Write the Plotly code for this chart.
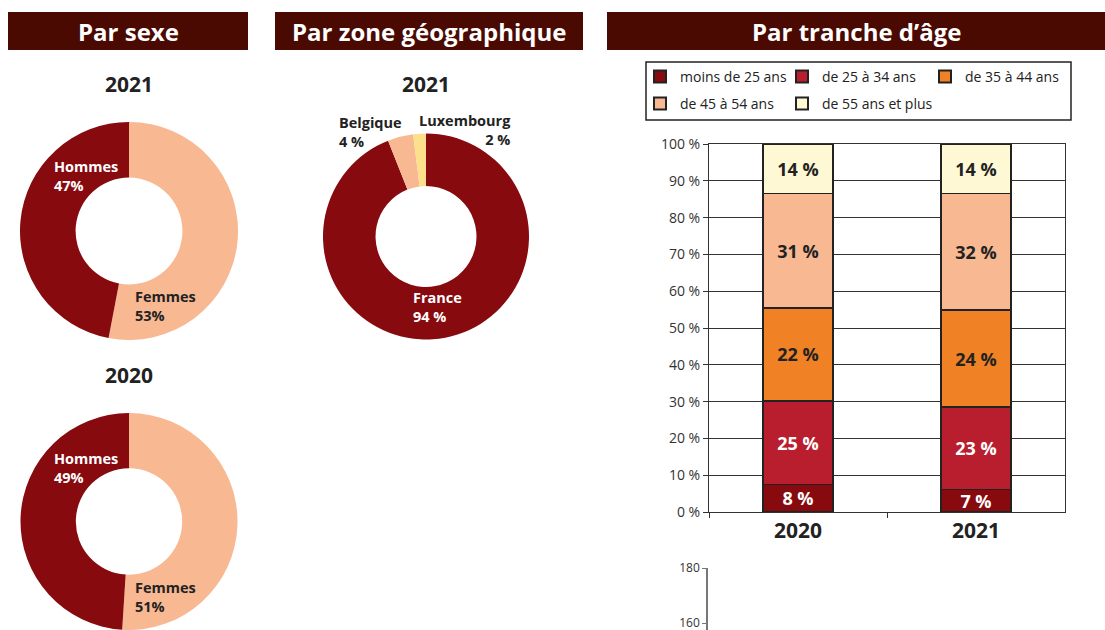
import plotly.graph_objects as go

W, H = 1105, 630


def fx(x):
    return x / W


def fy(y):
    return 1 - y / H


# ---------------- data ----------------
sexe_labels = ["Femmes", "Hommes"]
sexe_2021 = [53, 47]
sexe_2020 = [51, 49]

zone_labels = ["France", "Belgique", "Luxembourg"]
zone_2021 = [94, 4, 2]

years = ["2020", "2021"]
age_groups = ["moins de 25 ans", "de 25 à 34 ans", "de 35 à 44 ans",
              "de 45 à 54 ans", "de 55 ans et plus"]
# bar heights as drawn (%)
age_2020 = [7.5, 22.7, 25.3, 31.0, 13.5]
age_2021 = [6.1, 22.4, 26.4, 31.6, 13.5]
# values printed on the bars (%)
age_2020_labels = [8, 25, 22, 31, 14]
age_2021_labels = [7, 23, 24, 32, 14]
age_ticks = list(range(0, 101, 10))
age_tick_text = [f"{v} %" for v in age_ticks]

second_ticks = [160, 180]

headers = ["Par sexe", "Par zone géographique", "Par tranche d’âge"]

# ---------------- styles ----------------
DARK = "#870A0F"
RED = "#B81E2D"
ORANGE = "#F08125"
PEACH = "#F8B892"
CREAM = "#FFF8D4"
LUX = "#FDE08B"
HEAD = "#4A0A02"
TXT = "#222222"
FONT = "Open Sans"

age_colors = [DARK, RED, ORANGE, PEACH, CREAM]
age_text_colors = ["white", "white", TXT, TXT, TXT]
legend_ids = ["legend", "legend2", "legend3", "legend4", "legend5"]
# legend entry positions (px): (left, row centre)
legend_pos = [(640, 77), (782, 77), (925, 77), (640, 104), (782, 104)]

fig = go.Figure()

# ---------------- donuts ----------------
fig.add_trace(go.Pie(
    labels=sexe_labels, values=sexe_2021, sort=False, direction="clockwise",
    rotation=0, hole=0.49, textinfo="none", showlegend=False,
    marker=dict(colors=[PEACH, DARK], line=dict(width=0)),
    domain=dict(x=[fx(20), fx(238)], y=[fy(340), fy(122)]),
))
fig.add_trace(go.Pie(
    labels=sexe_labels, values=sexe_2020, sort=False, direction="clockwise",
    rotation=0, hole=0.49, textinfo="none", showlegend=False,
    marker=dict(colors=[PEACH, DARK], line=dict(width=0)),
    domain=dict(x=[fx(20), fx(238)], y=[0, fy(413)]),
))
fig.add_trace(go.Pie(
    labels=zone_labels, values=zone_2021, sort=False, direction="clockwise",
    rotation=0, hole=0.49, textinfo="none", showlegend=False,
    marker=dict(colors=[DARK, PEACH, LUX], line=dict(width=0)),
    domain=dict(x=[fx(323), fx(529)], y=[fy(340), fy(133)]),
))

# ---------------- stacked bars ----------------
for i, g in enumerate(age_groups):
    fig.add_trace(go.Bar(
        x=years, y=[age_2020[i], age_2021[i]], name=g,
        text=[f"{age_2020_labels[i]} %", f"{age_2021_labels[i]} %"],
        textposition="inside", insidetextanchor="middle", textangle=0,
        constraintext="none",
        textfont=dict(family=FONT, size=18, color=age_text_colors[i], weight="bold"),
        marker=dict(color=age_colors[i], line=dict(color="#222222", width=1.5)),
        legend=legend_ids[i],
        xaxis="x", yaxis="y",
    ))

# second (partially visible) chart axis
fig.add_trace(go.Scatter(x=[], y=[], xaxis="x2", yaxis="y2", showlegend=False))

# ---------------- annotations ----------------
ann = []
header_boxes = [(8, 248), (275, 583), (607, 1105)]
shapes = []
for (x0, x1), t in zip(header_boxes, headers):
    shapes.append(dict(type="rect", xref="paper", yref="paper",
                       x0=fx(x0), x1=fx(x1), y0=fy(50), y1=fy(12),
                       fillcolor=HEAD, line=dict(width=0), layer="below"))
    ann.append(dict(text=t, x=fx((x0 + x1) / 2), y=fy(31), xref="paper", yref="paper",
                    showarrow=False, xanchor="center", yanchor="middle",
                    font=dict(family=FONT, size=24, color="white", weight="bold")))

for t, x, y in [("2021", 129, 84), ("2021", 426, 84), ("2020", 129, 375)]:
    ann.append(dict(text=t, x=fx(x), y=fy(y), xref="paper", yref="paper",
                    showarrow=False, xanchor="center", yanchor="middle",
                    font=dict(family=FONT, size=21, color=TXT, weight="bold")))


def lab(text, x, y, color, xanchor="left", align="left"):
    ann.append(dict(text=text, x=fx(x), y=fy(y), xref="paper", yref="paper",
                    showarrow=False, xanchor=xanchor, yanchor="middle", align=align,
                    font=dict(family=FONT, size=14.5, color=color, weight="bold")))


lab(f"{sexe_labels[1]}<br>{sexe_2021[1]}%", 52, 176, "white")
lab(f"{sexe_labels[0]}<br>{sexe_2021[0]}%", 133, 306, TXT)
lab(f"{sexe_labels[1]}<br>{sexe_2020[1]}%", 52, 468, "white")
lab(f"{sexe_labels[0]}<br>{sexe_2020[0]}%", 133, 597, TXT)
lab(f"{zone_labels[1]}<br>{zone_2021[1]} %", 337, 132, TXT)
lab(f"{zone_labels[2]}<br>{zone_2021[2]} %", 513, 130, TXT, xanchor="right", align="right")
lab(f"{zone_labels[0]}<br>{zone_2021[0]} %", 411, 307, "white")

# legend frame
shapes.append(dict(type="rect", xref="paper", yref="paper",
                   x0=fx(646), x1=fx(1071), y0=fy(120), y1=fy(62),
                   line=dict(color="#222222", width=1.5), fillcolor="rgba(0,0,0,0)",
                   layer="above"))

legend_common = dict(orientation="h", xanchor="left", yanchor="middle",
                     font=dict(family=FONT, size=14, color=TXT),
                     bgcolor="rgba(0,0,0,0)", borderwidth=0, traceorder="normal",
                     itemsizing="constant")
legends = {lid: dict(x=fx(px), y=fy(py), **legend_common)
           for lid, (px, py) in zip(legend_ids, legend_pos)}

fig.update_layout(
    width=W, height=H, margin=dict(l=0, r=0, t=0, b=0, autoexpand=False),
    paper_bgcolor="white", plot_bgcolor="white",
    font=dict(family=FONT, color=TXT),
    barmode="stack", bargap=0.607,
    shapes=shapes, annotations=ann,
    xaxis=dict(domain=[fx(709), fx(1065)], anchor="y", type="category",
               tickson="boundaries", ticks="outside", ticklen=5, tickcolor="#333333",
               showline=True, linecolor="#333333", linewidth=1, mirror=True,
               showgrid=False, fixedrange=True,
               tickfont=dict(family=FONT, size=21, color=TXT, weight="bold")),
    yaxis=dict(domain=[fy(512), fy(144)], anchor="x", range=[0, 100],
               tickmode="array", tickvals=age_ticks, ticktext=age_tick_text,
               ticks="outside", ticklen=5,
               tickcolor="#333333", showline=True, linecolor="#333333", linewidth=1,
               mirror=True, showgrid=True, gridcolor="#333333", gridwidth=1,
               zeroline=False, tickfont=dict(family=FONT, size=14, color="#333333")),
    xaxis2=dict(domain=[fx(708), fx(1065)], anchor="y2", visible=False, range=[0, 1]),
    yaxis2=dict(domain=[0, fy(568)], anchor="x2",
                range=[180 - 62 / 55 * 20, 180], tickvals=second_ticks,
                ticks="outside", ticklen=4, tickcolor="#777777",
                showline=True, linecolor="#777777", linewidth=1.5,
                showgrid=False, zeroline=False, ticklabeloverflow="allow",
                tickfont=dict(family=FONT, size=12, color="#333333")),
)
fig.update_layout(**legends)

fig.write_html("out.html")
